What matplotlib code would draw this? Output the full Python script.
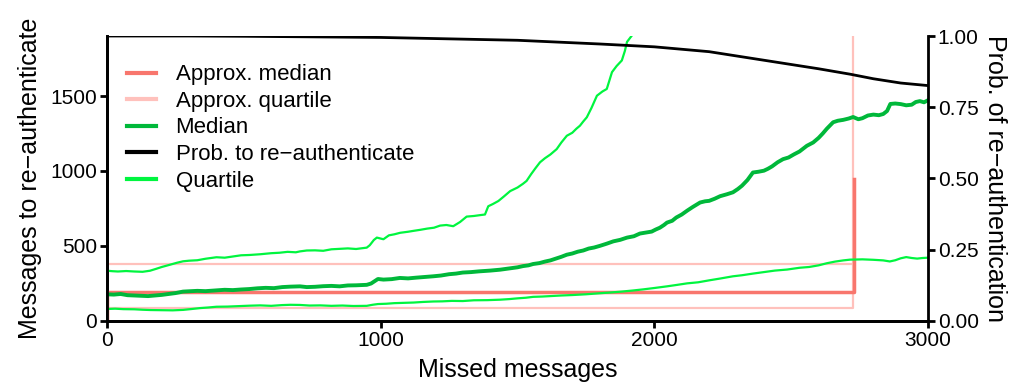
import matplotlib
matplotlib.use('Agg')
from matplotlib import pyplot as plt

plt.rcParams['font.family'] = ['Liberation Sans', 'DejaVu Sans']
plt.rcParams['axes.unicode_minus'] = True

# --- data ---
median_x = [0, 25, 50, 75, 100, 125, 150, 175, 200, 225, 250, 278, 300, 330, 360, 400, 430, 460, 490,
            520, 550, 580, 610, 640, 670, 705, 730, 760, 790, 820, 850, 880, 910, 949, 965, 980, 990,
            1010, 1040, 1070, 1100, 1130, 1160, 1192, 1220, 1250, 1275, 1300, 1330, 1360, 1400, 1436,
            1460, 1480, 1500, 1520, 1540, 1557, 1580, 1600, 1620, 1640, 1660, 1680, 1700, 1720, 1740,
            1760, 1780, 1801, 1825, 1850, 1875, 1900, 1925, 1947, 1970, 1990, 2005, 2020, 2035, 2046,
            2065, 2080, 2100, 2120, 2140, 2167, 2185, 2200, 2220, 2240, 2265, 2287, 2305, 2320, 2340,
            2360, 2380, 2400, 2415, 2430, 2450, 2470, 2490, 2510, 2530, 2557, 2580, 2600, 2615, 2630,
            2653, 2670, 2690, 2710, 2726, 2745, 2760, 2780, 2800, 2820, 2836, 2850, 2862, 2880, 2900,
            2920, 2940, 2955, 2970, 2985, 3000]
median_y = [178, 176, 180, 172, 170, 168, 166, 170, 174, 180, 186, 196, 198, 201, 199, 204, 208, 206, 210,
            213, 218, 221, 219, 226, 229, 231, 226, 228, 232, 234, 231, 237, 238, 241, 250, 268, 280,
            276, 279, 287, 284, 289, 293, 298, 303, 312, 316, 323, 326, 331, 336, 342,
            348, 353, 358, 366, 371, 380, 386, 396, 404, 416, 428, 442, 450, 462, 470,
            483, 490, 501, 515, 531, 541, 556, 565, 583, 590, 596, 610, 622, 640, 656,
            668, 690, 710, 736, 760, 790, 798, 801, 815, 832, 845, 858, 880, 902, 940,
            990, 995, 1002, 1015, 1031, 1058, 1079, 1090, 1111, 1130, 1168, 1190, 1221, 1250, 1282,
            1325, 1335, 1341, 1350, 1360, 1345, 1352, 1370, 1376, 1372, 1380, 1400, 1447, 1450, 1446,
            1438, 1442, 1460, 1466, 1458, 1472]

upq_x = [0, 20, 40, 70, 100, 130, 157, 180, 200, 230, 255, 278, 300, 330, 360, 400, 430, 460, 490, 520,
         560, 600, 630, 660, 690, 705, 730, 760, 790, 820, 850, 880, 910, 949, 960, 975, 986, 1010,
         1030, 1050, 1071, 1100, 1120, 1145, 1170, 1195, 1217, 1240, 1265, 1290, 1314, 1340, 1360,
         1381, 1393, 1410, 1430, 1450, 1473, 1500, 1520, 1533, 1550, 1566, 1582, 1600, 1620, 1643,
         1660, 1680, 1700, 1715, 1728, 1740, 1753, 1770, 1790, 1810, 1826, 1835, 1845, 1862, 1881,
         1892, 1900, 1918, 1930]
upq_y = [335, 332, 330, 333, 330, 328, 335, 348, 360, 375, 388, 398, 402, 405, 415, 425, 422, 430, 438, 440,
         445, 452, 455, 461, 458, 464, 470, 471, 468, 478, 481, 484, 480, 489, 505, 540, 556, 545,
         571, 578, 588, 595, 601, 608, 616, 622, 636, 640, 632, 660, 696, 700, 705,
         710, 765, 780, 800, 830, 866, 890, 915, 934, 980, 1020, 1058, 1085, 1110, 1146,
         1190, 1235, 1255, 1282, 1302, 1330, 1358, 1420, 1502, 1530, 1547, 1600, 1659, 1700, 1737,
         1800, 1861, 1904, 1935]

loq_x = [0, 30, 60, 100, 130, 160, 200, 240, 278, 310, 340, 370, 400, 440, 480, 520, 560, 600, 640, 670,
         705, 740, 780, 820, 860, 900, 949, 970, 990, 1020, 1050, 1085, 1120, 1155, 1192, 1225, 1260,
         1300, 1340, 1390, 1436, 1470, 1500, 1530, 1557, 1590, 1620, 1660, 1700, 1750, 1801, 1840,
         1880, 1920, 1960, 2000, 2046, 2080, 2120, 2160, 2200, 2240, 2287, 2320, 2360, 2400, 2440,
         2485, 2531, 2565, 2600, 2630, 2660, 2690, 2715, 2740, 2760, 2800, 2836, 2860, 2880, 2900,
         2920, 2940, 2960, 2980, 3000]
loq_y = [80, 82, 79, 78, 75, 73, 72, 71, 74, 80, 86, 90, 95, 96, 99, 102, 104, 101, 106, 108,
         107, 103, 104, 101, 103, 100, 101, 108, 113, 115, 119, 121, 123, 127, 130, 131, 134,
         133, 138, 139, 142, 146, 151, 155, 161, 163, 166, 170, 173, 178, 185, 190,
         196, 203, 211, 220, 231, 240, 251, 258, 271, 283, 298, 305, 316, 326, 336,
         343, 355, 360, 371, 385, 396, 404, 409, 410, 411, 408, 404, 397, 405, 418,
         426, 420, 416, 420, 422]

prob_x = [0, 300, 500, 1000, 1500, 1800, 2000, 2200, 2400, 2600, 2715, 2800, 2900, 3000]
prob_y = [1.0, 1.0, 0.999, 0.995, 0.985, 0.972, 0.962, 0.945, 0.915, 0.885, 0.866, 0.85, 0.835, 0.826]

# approximation (step at the cut-off)
approx_cut = 2730
approx_median = 194
approx_median_top = 944
approx_q_low = 84
approx_q_high = 381

c_amed = '#F8766D'
c_aq = '#FFC1BC'
c_med = '#00B83A'
c_q = '#00F53F'

fig = plt.figure(figsize=(10.15, 3.88), dpi=100)
ax = fig.add_axes([0.1054, 0.1727, 0.809, 0.7345])
ax2 = ax.twinx()

ax.plot([0, 0, approx_cut, approx_cut], [0, approx_median, approx_median, approx_median_top],
        color=c_amed, lw=2.5, label='Approx. median', zorder=3)
ax.plot([0, 0, approx_cut - 4, approx_cut - 4], [0, approx_q_low, approx_q_low, 2000],
        color=c_aq, lw=1.6, label='Approx. quartile', zorder=2)
ax.plot([0, approx_cut - 4], [approx_q_high, approx_q_high], color=c_aq, lw=1.6, zorder=2)
ax.plot(median_x, median_y, color=c_med, lw=2.8, label='Median', zorder=4)
ax.plot([], [], color='black', lw=2, label='Prob. to re\u2212authenticate')
ax.plot(upq_x, upq_y, color=c_q, lw=1.6, label='Quartile', zorder=4)
ax.plot(loq_x, loq_y, color=c_q, lw=1.6, zorder=4)

ax2.plot(prob_x, prob_y, color='black', lw=2)

ax.set_xlim(0, 3000)
ax.set_ylim(0, 1900)
ax2.set_ylim(0, 1.0)
ax.set_xticks([0, 1000, 2000, 3000])
ax.set_yticks([0, 500, 1000, 1500])
ax2.set_yticks([0, 0.25, 0.5, 0.75, 1.0])
ax2.set_yticklabels(['0.00', '0.25', '0.50', '0.75', '1.00'])

for a in (ax, ax2):
    a.spines['top'].set_visible(False)
    for s in ('left', 'right', 'bottom'):
        a.spines[s].set_linewidth(2)
    a.tick_params(width=2, length=5, labelsize=15, color='black', pad=2)
ax.spines['right'].set_visible(False)

ax.set_xlabel('Missed messages', fontsize=18, labelpad=6)
ax.set_ylabel('Messages to re\u2212authenticate', fontsize=18, labelpad=6)
ax2.set_ylabel('Prob. of re\u2212authentication', fontsize=18, rotation=270, labelpad=20)

leg = ax.legend(loc='upper left', frameon=False, fontsize=16, handlelength=1.3,
                labelspacing=0.25, borderaxespad=0.3, handletextpad=0.9,
                bbox_to_anchor=(0.005, 0.955))
for h in leg.get_lines():
    h.set_linewidth(3)

fig.savefig('out.png', dpi=100)
